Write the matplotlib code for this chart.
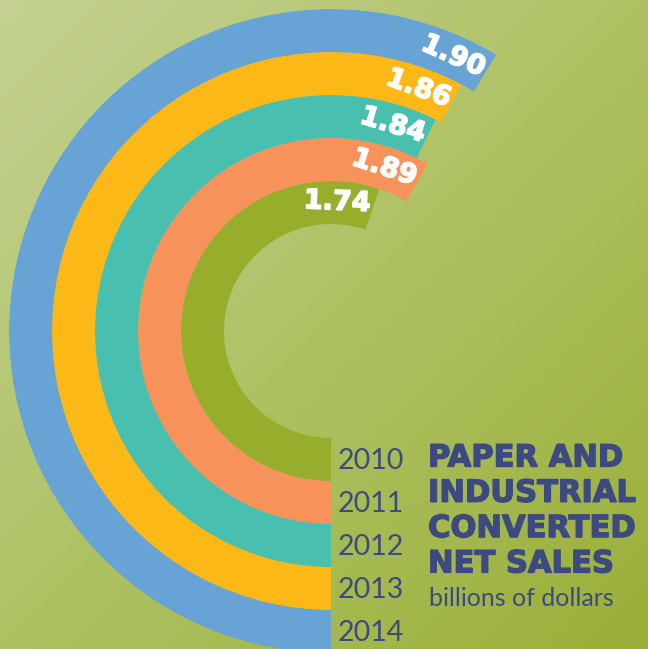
import numpy as np
import matplotlib
matplotlib.use("Agg")
import matplotlib.pyplot as plt
import matplotlib.patheffects as pe
from matplotlib.colors import LinearSegmentedColormap

# net sales, billions of dollars (inner ring first)
years = ["2010", "2011", "2012", "2013", "2014"]
sales = [1.74, 1.89, 1.84, 1.86, 1.90]
ring_colors = ["#97ae2c", "#f6925a", "#48bfaf", "#fbb817", "#67a3d5"]

title_lines = ["PAPER AND", "INDUSTRIAL", "CONVERTED", "NET SALES"]
subtitle = "billions of dollars"

navy = "#3d4a82"
W, H = 648, 649
hole = 107      # inner hole radius, px
ring_w = 43     # ring thickness, px
base = -0.9     # value at which a ring would have zero sweep
deg_per_unit = 75.3

fig = plt.figure(figsize=(W / 100, H / 100), dpi=100)

# diagonal background gradient
bg = fig.add_axes([0, 0, 1, 1])
yy, xx = np.mgrid[0:1:200j, 0:1:200j]
t = (xx + yy) / 2
cmap = LinearSegmentedColormap.from_list("bg", ["#c4d192", "#aec264", "#9aaf38"])
bg.imshow(t, cmap=cmap, extent=[0, 1, 0, 1], aspect="auto", origin="upper")
bg.axis("off")

# polar axes: zero at the bottom, clockwise
cx, cy = 331, 331
R = hole + ring_w * len(sales)
ax = fig.add_axes([(cx - R) / W, (H - cy - R) / H, 2 * R / W, 2 * R / H],
                  projection="polar")
ax.set_theta_zero_location("S")
ax.set_theta_direction(-1)
ax.set_ylim(0, R)
ax.axis("off")
ax.patch.set_alpha(0)

heavy_white = [pe.withStroke(linewidth=1.2, foreground="white")]
heavy_navy = [pe.withStroke(linewidth=1.0, foreground=navy)]

for i, (yr, v, c) in enumerate(zip(years, sales, ring_colors)):
    sweep = np.deg2rad((v - base) * deg_per_unit)
    r0 = hole + ring_w * i
    rm = r0 + ring_w / 2
    ax.barh(rm, sweep, left=0, height=ring_w, color=c, align="center",
            linewidth=0)
    # value label, set back from the end of the ring
    th = sweep - 36 / rm
    rot = 180 - np.rad2deg(th)
    ax.text(th, rm, f"{v:.2f}", color="white", fontsize=19.5,
            fontweight="bold", family="DejaVu Sans", ha="center", va="center",
            rotation=rot, rotation_mode="anchor", path_effects=heavy_white)
    # year label at the start of the ring
    ax.annotate(yr, xy=(0, rm), xytext=(5, -1), textcoords="offset points",
                color=navy, fontsize=20.5, family="Lato", fontweight="normal",
                ha="left", va="center")

for k, line in enumerate(title_lines):
    fig.text(428 / W, 1 - (458 + 35.3 * k) / H, line, color=navy,
             fontsize=22, family="DejaVu Sans", fontweight="bold",
             ha="left", va="center", path_effects=heavy_navy)
fig.text(429 / W, 1 - 598 / H, subtitle, color=navy, fontsize=18,
         family="Lato", ha="left", va="center")

fig.savefig("out.png", dpi=100)
